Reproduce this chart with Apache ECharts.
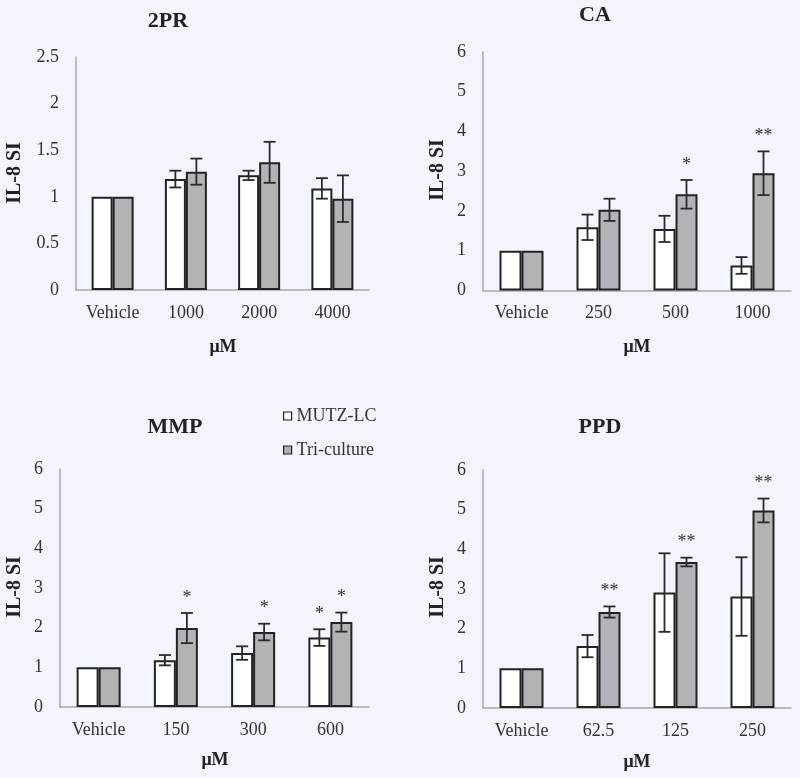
<!DOCTYPE html>
<html>
<head>
<meta charset="utf-8">
<script src="https://cdn.jsdelivr.net/npm/echarts@6/dist/echarts.min.js"></script>
<style>
html,body{margin:0;padding:0;background:#f2f6fc;}
#chart{width:800px;height:778px;}
</style>
</head>
<body>
<div id="chart"></div>
<script>
// ---- data ----
const titles = ['2PR', 'CA', 'MMP', 'PPD'];
const seriesNames = ['MUTZ-LC', 'Tri-culture'];
const yLabel = 'IL-8 SI';
const xLabel = 'μM';

const cats2PR = ['Vehicle', '1000', '2000', '4000'];
const mutz2PR = [1, 1.19, 1.23, 1.09];
const mutzErr2PR = [0, 0.09, 0.05, 0.11];
const tri2PR = [1, 1.27, 1.37, 0.98];
const triErr2PR = [0, 0.14, 0.22, 0.25];
const mutzSig2PR = ['', '', '', ''];
const triSig2PR = ['', '', '', ''];

const catsCA = ['Vehicle', '250', '500', '1000'];
const mutzCA = [1, 1.59, 1.55, 0.63];
const mutzErrCA = [0, 0.32, 0.33, 0.21];
const triCA = [1, 2.03, 2.42, 2.95];
const triErrCA = [0, 0.28, 0.36, 0.55];
const mutzSigCA = ['', '', '', ''];
const triSigCA = ['', '', '*', '**'];

const catsMMP = ['Vehicle', '150', '300', '600'];
const mutzMMP = [1, 1.18, 1.36, 1.75];
const mutzErrMMP = [0, 0.13, 0.17, 0.21];
const triMMP = [1, 1.99, 1.89, 2.14];
const triErrMMP = [0, 0.38, 0.21, 0.24];
const mutzSigMMP = ['', '', '', '*'];
const triSigMMP = ['', '*', '*', '*'];

const catsPPD = ['Vehicle', '62.5', '125', '250'];
const mutzPPD = [1, 1.56, 2.91, 2.81];
const mutzErrPPD = [0, 0.28, 0.99, 0.99];
const triPPD = [1, 2.42, 3.68, 4.98];
const triErrPPD = [0, 0.14, 0.11, 0.30];
const mutzSigPPD = ['', '', '', ''];
const triSigPPD = ['', '**', '**', '**'];

const yMax = [2.5, 6, 6, 6];
const yInterval = [0.5, 1, 1, 1];

// ---- layout / style ----
const panels = [
  {cats: cats2PR, m: mutz2PR, me: mutzErr2PR, t: tri2PR, te: triErr2PR, ms: mutzSig2PR, ts: triSig2PR},
  {cats: catsCA, m: mutzCA, me: mutzErrCA, t: triCA, te: triErrCA, ms: mutzSigCA, ts: triSigCA},
  {cats: catsMMP, m: mutzMMP, me: mutzErrMMP, t: triMMP, te: triErrMMP, ms: mutzSigMMP, ts: triSigMMP},
  {cats: catsPPD, m: mutzPPD, me: mutzErrPPD, t: triPPD, te: triErrPPD, ms: mutzSigPPD, ts: triSigPPD}
];
const grids = [
  {left: 76, top: 57, width: 293, height: 233},
  {left: 483, top: 52, width: 308, height: 238.5},
  {left: 60, top: 469, width: 309, height: 238},
  {left: 483, top: 470, width: 308, height: 238}
];
const barW = [21, 22, 22, 22];
const titlePos = [[168, 21], [595, 15], [175, 427], [600, 427]];
const yLabPos = [[15, 173], [438, 170], [15, 587], [438, 587]];
const xLabPos = [[223, 347], [637, 347], [215, 760], [637, 762]];

const FONT = '"Liberation Serif", "Times New Roman", serif';
const TXT = '#333333';
const WHITE = '#ffffff';
const GRAY = '#b1b3b7';
const EDGE = '#222222';

const xAxes = [], yAxes = [], series = [], graphics = [];

function errRender(vals, errs, sigs, side, bw) {
  return function (params, api) {
    const i = params.dataIndex;
    const v = vals[i], e = errs[i];
    const c = api.coord([i, v]);
    const cx = c[0] + side * bw / 2;
    const topP = api.coord([i, v + e])[1];
    const botP = api.coord([i, v - e])[1];
    const children = [];
    const st = {stroke: '#2a2a2a', lineWidth: 1.8};
    if (e > 0) {
      children.push({type: 'line', shape: {x1: cx, y1: topP, x2: cx, y2: botP}, style: st});
      children.push({type: 'line', shape: {x1: cx - 6, y1: topP, x2: cx + 6, y2: topP}, style: st});
      children.push({type: 'line', shape: {x1: cx - 6, y1: botP, x2: cx + 6, y2: botP}, style: st});
    }
    if (sigs[i]) {
      children.push({type: 'text', style: {
        x: cx, y: topP - 6, text: sigs[i], fill: '#333', font: '18px ' + FONT,
        textAlign: 'center', textVerticalAlign: 'bottom'
      }});
    }
    return {type: 'group', children: children};
  };
}

panels.forEach(function (p, k) {
  xAxes.push({
    type: 'category', gridIndex: k, data: p.cats,
    axisLine: {lineStyle: {color: '#a8a8a8', width: 1.5}},
    axisTick: {show: false},
    axisLabel: {color: TXT, fontFamily: FONT, fontSize: 18, margin: 14}
  });
  yAxes.push({
    type: 'value', gridIndex: k, min: 0, max: yMax[k], interval: yInterval[k],
    axisLine: {show: true, lineStyle: {color: '#a8a8a8', width: 1.5}},
    axisTick: {show: false},
    splitLine: {show: false},
    axisLabel: {color: TXT, fontFamily: FONT, fontSize: 18, margin: 17}
  });
  series.push({
    name: seriesNames[0], type: 'bar', xAxisIndex: k, yAxisIndex: k,
    data: p.m, barWidth: barW[k], barGap: '0%',
    itemStyle: {color: WHITE, borderColor: EDGE, borderWidth: 2}
  });
  series.push({
    name: seriesNames[1], type: 'bar', xAxisIndex: k, yAxisIndex: k,
    data: p.t, barWidth: barW[k], barGap: '0%',
    itemStyle: {color: GRAY, borderColor: EDGE, borderWidth: 2}
  });
  series.push({
    type: 'custom', xAxisIndex: k, yAxisIndex: k, z: 10, silent: true,
    data: p.m.map(function (v, i) { return [i, v]; }),
    renderItem: errRender(p.m, p.me, p.ms, -1, barW[k])
  });
  series.push({
    type: 'custom', xAxisIndex: k, yAxisIndex: k, z: 10, silent: true,
    data: p.t.map(function (v, i) { return [i, v]; }),
    renderItem: errRender(p.t, p.te, p.ts, 1, barW[k])
  });
  graphics.push({
    type: 'text', x: titlePos[k][0], y: titlePos[k][1],
    style: {text: titles[k], font: 'bold 22px ' + FONT, fill: '#222', textAlign: 'center', textVerticalAlign: 'middle'}
  });
  graphics.push({
    type: 'text', x: yLabPos[k][0], y: yLabPos[k][1], rotation: Math.PI / 2,
    style: {text: yLabel, font: 'bold 20px ' + FONT, fill: '#222', textAlign: 'center', textVerticalAlign: 'middle'}
  });
  graphics.push({
    type: 'text', x: xLabPos[k][0], y: xLabPos[k][1],
    style: {text: xLabel, font: 'bold 18px ' + FONT, fill: '#222', textAlign: 'center', textVerticalAlign: 'middle'}
  });
});

const chart = echarts.init(document.getElementById('chart'), null, {renderer: 'canvas'});
chart.setOption({
  backgroundColor: '#f2f6fc',
  animation: false,
  grid: grids,
  xAxis: xAxes,
  yAxis: yAxes,
  legend: {
    orient: 'vertical', left: 278, top: 402, itemWidth: 8, itemHeight: 8, itemGap: 16,
    icon: 'rect',
    textStyle: {color: TXT, fontFamily: FONT, fontSize: 18},
    data: [
      {name: seriesNames[0], itemStyle: {color: WHITE, borderColor: EDGE, borderWidth: 1.2}},
      {name: seriesNames[1], itemStyle: {color: GRAY, borderColor: EDGE, borderWidth: 1.2}}
    ]
  },
  graphic: graphics,
  series: series
});
</script>
</body>
</html>
